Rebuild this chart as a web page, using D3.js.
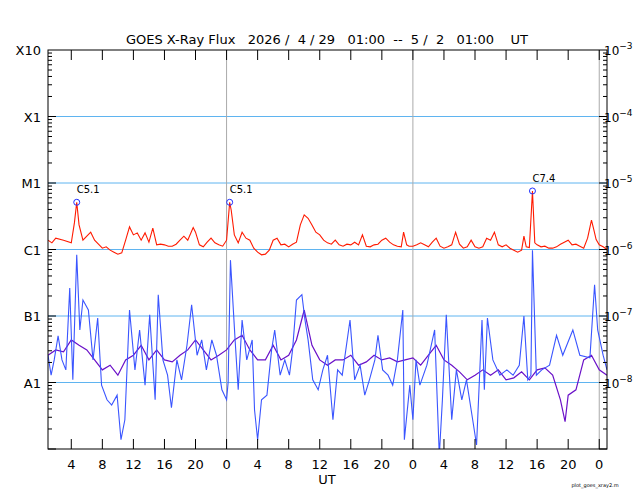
<!DOCTYPE html>
<html><head><meta charset="utf-8">
<script src="https://cdn.jsdelivr.net/npm/d3@7"></script>
<style>body{margin:0;background:#fff}svg{font-family:"DejaVu Sans",sans-serif}</style>
</head><body><svg id="c" width="640" height="500"></svg>
<script>
// hours since 2026-04-29 01:00 UT, values are log10(flux W/m^2)
const redT=[0,0.5,1,2,3,3.4,3.7,4,4.5,5,5.5,6,6.5,7,7.5,8,8.5,9,9.5,10,10.5,11,11.5,12,12.5,13,13.5,14,14.5,15,15.5,16,16.5,17,17.5,18,18.7,19,19.5,20,20.5,21,21.5,22,22.5,23,23.4,23.6,24,24.5,25,25.5,26,26.5,27,27.5,28,28.5,29,29.5,30,30.5,31,31.5,32,32.5,33,33.5,34,34.5,35,35.5,36,36.5,37,37.5,38,38.5,39,39.5,40,40.5,41,41.5,42,42.5,43,43.5,44,44.5,45,45.5,45.8,46.2,46.5,47,47.5,48,48.5,49,49.5,50,50.5,51,51.5,52,52.5,53,53.5,54,54.5,55,55.5,56,56.5,57,57.5,58,58.5,59,59.5,60,60.5,61,61.3,61.6,62,62.4,62.7,63,63.5,64,64.5,65,65.5,66,66.5,67,67.5,68,68.5,69,69.5,70,70.3,70.6,71,71.5,72];
const redV=[-5.86,-5.90,-5.83,-5.86,-5.90,-5.6,-5.29,-5.63,-5.86,-5.80,-5.74,-5.86,-5.92,-5.98,-5.96,-6.01,-6.04,-6.07,-6.05,-5.86,-5.66,-5.78,-5.75,-5.86,-5.75,-5.89,-5.68,-5.93,-5.92,-5.93,-5.95,-5.95,-5.92,-5.86,-5.80,-5.86,-5.67,-5.74,-5.93,-5.96,-5.89,-5.83,-5.90,-5.93,-5.95,-5.86,-5.29,-5.41,-5.78,-5.90,-5.74,-5.83,-5.86,-5.98,-6.04,-6.08,-6.07,-6.01,-5.86,-5.83,-5.93,-5.92,-5.96,-5.92,-5.89,-5.63,-5.48,-5.53,-5.63,-5.74,-5.78,-5.86,-5.90,-5.92,-5.86,-5.93,-5.95,-5.92,-5.93,-5.89,-5.93,-5.78,-5.95,-5.96,-5.93,-5.92,-5.86,-5.83,-5.89,-5.93,-5.95,-5.96,-5.74,-5.93,-5.95,-5.95,-5.93,-5.90,-5.93,-5.96,-5.89,-5.83,-5.95,-5.98,-5.96,-5.93,-5.74,-5.92,-5.98,-5.96,-5.86,-5.96,-5.98,-5.96,-5.83,-5.86,-5.74,-5.93,-5.96,-5.93,-5.98,-6.01,-6.04,-6.01,-5.80,-5.96,-5.97,-5.12,-5.9,-5.93,-5.96,-5.95,-5.98,-5.98,-5.96,-5.92,-5.89,-5.86,-5.93,-5.92,-5.95,-5.98,-5.83,-5.56,-5.7,-5.85,-5.93,-5.96,-6.0];
const blueT=[0,0.4,0.8,1.3,1.8,2.3,2.8,3.2,3.7,4.1,4.5,5.2,5.8,6.4,6.9,7.6,8.2,8.9,9.4,9.9,10.5,11.2,11.8,12.5,13.1,13.8,14.2,14.8,15.4,15.9,16.6,17.2,17.9,18.5,19.2,19.8,20.4,21.1,21.7,22.4,23,23.2,23.5,24.1,24.5,25,25.6,26.3,26.6,27,27.5,28.2,28.8,29.2,29.9,30.5,31.1,31.5,32,32.7,33.1,33.5,34.1,34.8,35.4,36,36.7,37.3,37.9,38.9,39.5,40.2,40.8,41.4,42.1,42.5,43.1,43.8,44.4,45,45.7,45.9,46.6,47,47.4,47.9,48.8,49.8,50.4,50.8,51.3,52,52.6,53.3,53.9,54.7,55.2,55.9,56.2,56.6,57.3,58.2,59.1,59.9,60.7,61.3,61.8,62.2,62.4,62.9,63.6,64.6,65.5,66.3,67.6,68.5,69.8,70.4,70.8,71.5,72];
const blueV=[-7.59,-7.89,-7.66,-7.30,-7.66,-7.81,-6.58,-7.96,-6.08,-7.21,-6.76,-6.91,-7.66,-7.03,-8.04,-8.26,-8.34,-8.19,-8.86,-8.56,-6.91,-7.81,-7.21,-8.04,-6.98,-8.26,-6.68,-7.66,-7.89,-8.38,-7.66,-7.96,-7.44,-6.83,-7.59,-7.36,-7.81,-7.36,-7.59,-8.11,-8.26,-8.0,-6.16,-7.36,-8.11,-7.06,-7.66,-7.36,-8.41,-8.86,-8.26,-8.19,-7.51,-7.21,-7.89,-7.66,-7.89,-7.51,-6.76,-6.68,-7.06,-7.36,-7.96,-8.11,-7.81,-7.59,-8.56,-7.81,-7.89,-7.06,-7.96,-7.74,-8.19,-7.96,-7.66,-7.29,-7.81,-7.89,-8.04,-7.66,-6.91,-8.86,-8.04,-8.56,-7.66,-8.04,-7.74,-7.21,-9.1,-8.26,-6.98,-8.56,-7.81,-8.26,-7.96,-8.56,-8.94,-7.06,-8.11,-7.03,-7.66,-7.89,-7.81,-7.89,-7.74,-7.0,-7.96,-7.89,-6.01,-7.89,-7.81,-7.74,-7.29,-7.59,-7.21,-7.59,-7.63,-6.53,-7.21,-7.59,-7.81];
const purpT=[0,1,2,3,4,5,6,7,8,9,10,11,12,13,14,15,16,17,18,19,20,21,22,23,24,25,26,27,28,29,30,31,32,33,34,35,36,37,38,39,40,41,42,43,44,45,46,47,48,49,50,51,52,53,54,55,56,57,58,59,60,61,62,63,64,65,66,66.6,67,68,69,70,71,72];
const purpV=[-7.59,-7.51,-7.54,-7.36,-7.44,-7.51,-7.66,-7.81,-7.74,-7.89,-7.66,-7.59,-7.44,-7.66,-7.51,-7.66,-7.69,-7.59,-7.51,-7.36,-7.51,-7.66,-7.59,-7.51,-7.36,-7.29,-7.51,-7.66,-7.66,-7.44,-7.66,-7.59,-7.36,-6.91,-7.44,-7.66,-7.74,-7.66,-7.66,-7.59,-7.74,-7.69,-7.59,-7.66,-7.63,-7.69,-7.66,-7.63,-7.74,-7.59,-7.44,-7.66,-7.74,-7.84,-7.96,-7.89,-7.81,-7.89,-7.81,-7.96,-7.93,-7.84,-7.96,-7.81,-7.78,-7.89,-8.26,-8.59,-8.19,-8.11,-7.66,-7.59,-7.81,-7.89];
const flares=[{t:3.7,v:-5.29,label:"C5.1"},{t:23.4,v:-5.29,label:"C5.1"},{t:62.4,v:-5.12,label:"C7.4"}];
const leftLabels=["X10","X1","M1","C1","B1","A1"];
const leftLevels=[-3,-4,-5,-6,-7,-8];
const rightExps=[-3,-4,-5,-6,-7,-8];
const hourTicks=[3,7,11,15,19,23,27,31,35,39,43,47,51,55,59,63,67,71];
const hourLabels=["4","8","12","16","20","0","4","8","12","16","20","0","4","8","12","16","20","0"];
const dayLines=[23,47,71];
const title="GOES X-Ray Flux   2026 /  4 / 29   01:00  --  5 /  2   01:00    UT";

const svg=d3.select("#c");
const L=48,R=607,T=50,B=449;
const x=d3.scaleLinear().domain([0,72]).range([L,R]);
const y=d3.scaleLog().domain([1e-9,1e-3]).range([B,T]);
const p10=v=>Math.pow(10,v);
svg.append("defs").append("clipPath").attr("id","clp").append("rect").attr("x",L).attr("y",T).attr("width",R-L).attr("height",B-T);

leftLevels.slice(1).forEach(l=>svg.append("line").attr("x1",L).attr("x2",R).attr("y1",y(p10(l))).attr("y2",y(p10(l))).attr("stroke","#5fb4f0").attr("stroke-width",1));
dayLines.forEach(h=>svg.append("line").attr("x1",x(h)).attr("x2",x(h)).attr("y1",T).attr("y2",B).attr("stroke","#aaa").attr("stroke-width",1));

const line=d3.line().x(d=>x(d[0])).y(d=>y(p10(d[1])));
const g=svg.append("g").attr("clip-path","url(#clp)");
const zip=(a,b)=>a.map((t,i)=>[t,b[i]]);
g.append("path").attr("d",line(zip(purpT,purpV))).attr("fill","none").attr("stroke","#6a10c8").attr("stroke-width",1.2);
g.append("path").attr("d",line(zip(blueT,blueV))).attr("fill","none").attr("stroke","#3a55ff").attr("stroke-width",1.1);
g.append("path").attr("d",line(zip(redT,redV))).attr("fill","none").attr("stroke","#ff1a00").attr("stroke-width",1.1);

flares.forEach(f=>{
  svg.append("circle").attr("cx",x(f.t)).attr("cy",y(p10(f.v))).attr("r",3).attr("fill","none").attr("stroke","#2030ff");
  svg.append("text").attr("x",x(f.t)).attr("y",y(p10(f.v))-9).attr("font-size",10).text(f.label);
});

svg.append("rect").attr("x",L).attr("y",T).attr("width",R-L).attr("height",B-T).attr("fill","none").attr("stroke","#000");
for(let e=-9;e<-3;e++){for(let m=1;m<10;m++){const yy=y(m*p10(e));const len=m===1?8:4;
  svg.append("line").attr("x1",L).attr("x2",L+len).attr("y1",yy).attr("y2",yy).attr("stroke","#000");
  svg.append("line").attr("x1",R).attr("x2",R-len).attr("y1",yy).attr("y2",yy).attr("stroke","#000");}}
hourTicks.forEach((h,i)=>{
  svg.append("line").attr("x1",x(h)).attr("x2",x(h)).attr("y1",B).attr("y2",B-10).attr("stroke","#000");
  svg.append("line").attr("x1",x(h)).attr("x2",x(h)).attr("y1",T).attr("y2",T+10).attr("stroke","#000");
  svg.append("text").attr("x",x(h)).attr("y",469).attr("text-anchor","middle").attr("font-size",13).text(hourLabels[i]);
});
leftLevels.forEach((l,i)=>svg.append("text").attr("x",41).attr("y",y(p10(l))+5).attr("text-anchor","end").attr("font-size",13).text(leftLabels[i]));
rightExps.forEach(e=>{const t=svg.append("text").attr("x",604).attr("y",y(p10(e))+5).attr("font-size",12);
  t.append("tspan").text("10");t.append("tspan").attr("dy",-6).attr("font-size",9).text("−"+(-e));});
svg.append("text").attr("x",327).attr("y",44).attr("text-anchor","middle").attr("font-size",13).style("white-space","pre").text(title);
svg.append("text").attr("x",327).attr("y",484).attr("text-anchor","middle").attr("font-size",13).text("UT");
svg.append("text").attr("x",595).attr("y",487).attr("text-anchor","middle").attr("font-size",5).text("plot_goes_xray2.m");
</script></body></html>
